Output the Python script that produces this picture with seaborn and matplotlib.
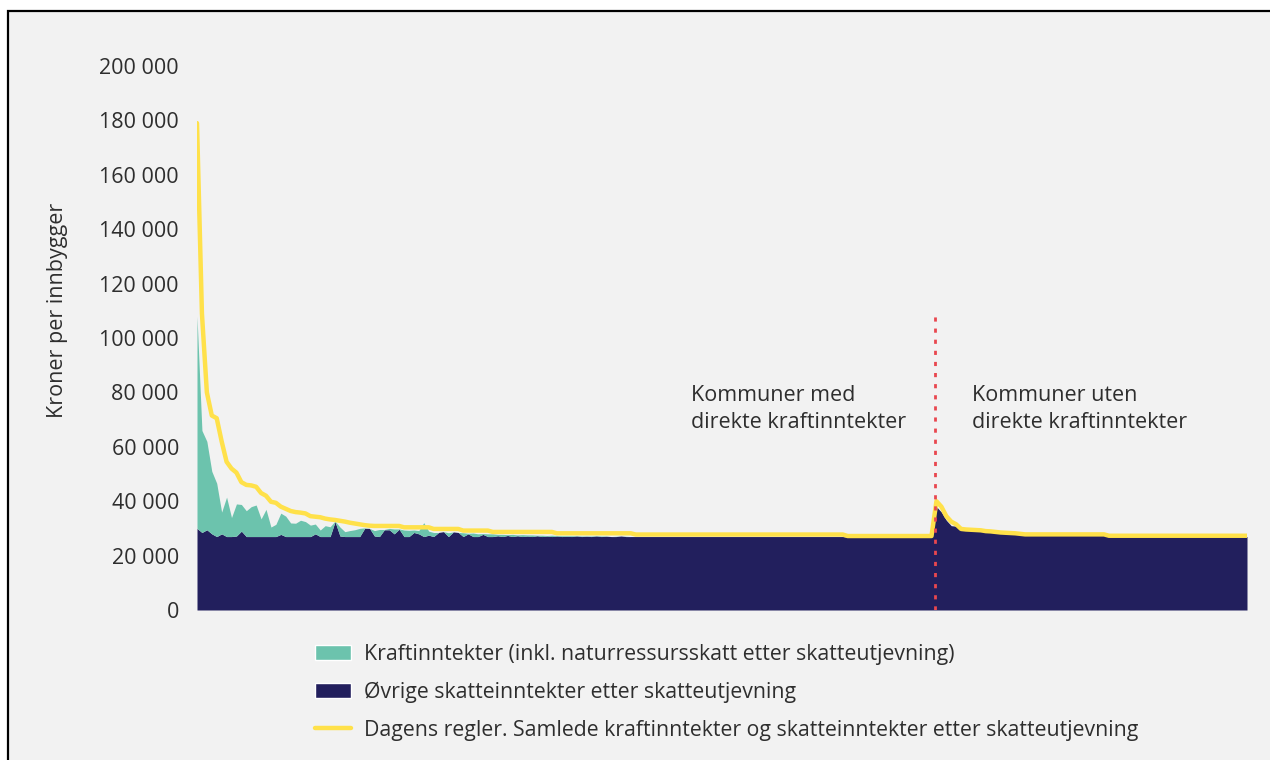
import numpy as np
import pandas as pd
import seaborn as sns
import matplotlib.pyplot as plt
from matplotlib.patches import Patch, Rectangle
from matplotlib.lines import Line2D

sns.set_theme(style="white")
plt.rcParams['font.family'] = ['Open Sans', 'DejaVu Sans']

# kommuner med direkte kraftinntekter (sortert etter samlede inntekter)
kraft_med = [
    78000, 37500, 32500, 23000, 19600, 8000, 14500, 7000, 11800, 9800,
    9500, 11000, 11600, 6500, 10000, 3500, 4500, 7800, 7500, 5000,
    4900, 6000, 5500, 4200, 3600, 2400, 4000, 3600, 200, 3300,
    1800, 2200, 2500, 3000, 200, 0, 2000, 2600, 100, 500,
    1800, 100, 2400, 2300, 900, 1200, 5100, 1500, 1500, 0,
    0, 1400, 0, 0, 1400, 200, 1300, 1000, 300, 1000,
    1000, 500, 800, 300, 800, 300, 700, 400, 600, 200,
    500, 200, 500, 200, 300, 200, 300, 100, 200, 100,
    200, 100, 200, 100, 0, 100, 0, 100, 0, 0,
    0, 0, 0, 0, 0, 0, 0, 0, 0, 0,
    0, 0, 0, 0, 0, 0, 0, 0, 0, 0,
    0, 0, 0, 0, 0, 0, 0, 0, 0, 0,
    0, 0, 0, 0, 0, 0, 0, 0, 0, 0,
    0, 0, 0, 0, 0, 0, 0, 0, 0, 0,
    0, 0, 0, 0, 0, 0, 0, 0, 0, 0,
]
ovrige_med = [
    30000, 28500, 29500, 28000, 27000, 28000, 27000, 27000, 27200, 29000,
    27000, 27000, 27000, 27000, 27000, 27000, 27000, 27800, 27000, 27000,
    27000, 27000, 27000, 27000, 28000, 27000, 27000, 27000, 32500, 27200,
    27000, 27000, 27000, 27000, 30000, 30000, 27200, 27000, 29500, 29500,
    28000, 29700, 27000, 27000, 28500, 28000, 27000, 27500, 27000, 28500,
    28800, 27000, 28700, 28500, 27000, 28000, 27000, 27000, 27800, 27000,
    27000, 27300, 27000, 27400, 27000, 27300, 27000, 27200, 27000, 27300,
    27000, 27200, 27000, 27200, 27000, 27100, 27000, 27200, 27000, 27100,
    27000, 27200, 27000, 27100, 27000, 27000, 27200, 27000, 27000, 27000,
    27000, 27000, 27000, 27000, 27000, 27000, 27000, 27000, 27000, 27000,
    27000, 27000, 27000, 27000, 27000, 27000, 27000, 27000, 27000, 27000,
    27000, 27000, 27000, 27000, 27000, 27000, 27000, 27000, 27000, 27000,
    27000, 27000, 27000, 27000, 27000, 27000, 27000, 27000, 27000, 27000,
    27000, 27000, 26800, 26800, 26800, 26800, 26800, 26800, 26800, 26800,
    26800, 26800, 26800, 26800, 26800, 26800, 26800, 26800, 26800, 26800,
]
samlet_med = [
    179000, 109000, 80000, 71500, 70500, 62000, 54500, 52000, 50500, 47000,
    46000, 45800, 45300, 43000, 42000, 39800, 39400, 38000, 37200, 36400,
    36000, 35800, 35500, 34500, 34300, 34100, 33600, 33300, 33100, 32800,
    32500, 32100, 31800, 31500, 31200, 31000, 30900, 30900, 30900, 30900,
    30900, 30900, 30400, 30400, 30400, 30400, 30400, 30400, 29800, 29800,
    29800, 29800, 29800, 29800, 29200, 29200, 29200, 29200, 29200, 29200,
    28700, 28700, 28700, 28700, 28700, 28700, 28700, 28700, 28700, 28700,
    28700, 28700, 28700, 28200, 28200, 28200, 28200, 28200, 28200, 28200,
    28200, 28200, 28200, 28200, 28200, 28200, 28200, 28200, 28200, 27750,
    27750, 27750, 27750, 27750, 27750, 27750, 27750, 27750, 27750, 27750,
    27750, 27750, 27750, 27750, 27750, 27750, 27750, 27750, 27750, 27750,
    27750, 27750, 27750, 27750, 27750, 27750, 27750, 27750, 27750, 27750,
    27750, 27750, 27750, 27750, 27750, 27750, 27750, 27750, 27750, 27750,
    27750, 27750, 27200, 27200, 27200, 27200, 27200, 27200, 27200, 27200,
    27200, 27200, 27200, 27200, 27200, 27200, 27200, 27200, 27200, 27200,
]

# kommuner uten direkte kraftinntekter
ovrige_uten = [
    38000, 36000, 33000, 31000, 30800, 29400, 29300, 29200, 29100, 29000,
    28700, 28600, 28400, 28200, 28100, 28000, 27900, 27700, 27500, 27500,
    27500, 27500, 27500, 27500, 27500, 27500, 27500, 27500, 27500, 27500,
    27500, 27500, 27500, 27500, 27500, 27000, 27000, 27000, 27000, 27000,
    27000, 27000, 27000, 27000, 27000, 27000, 27000, 27000, 27000, 27000,
    27000, 27000, 27000, 27000, 27000, 27000, 27000, 27000, 27000, 27000,
    27000, 27000, 27000, 27000,
]
samlet_uten = [
    40000, 38000, 34500, 32500, 31500, 29800, 29600, 29500, 29400, 29300,
    29000, 28900, 28700, 28500, 28400, 28300, 28200, 28000, 27800, 27800,
    27800, 27800, 27800, 27800, 27800, 27800, 27800, 27800, 27800, 27800,
    27800, 27800, 27800, 27800, 27800, 27300, 27300, 27300, 27300, 27300,
    27300, 27300, 27300, 27300, 27300, 27300, 27300, 27300, 27300, 27300,
    27300, 27300, 27300, 27300, 27300, 27300, 27300, 27300, 27300, 27300,
    27300, 27300, 27300, 27300,
]

yticks = [0, 20000, 40000, 60000, 80000, 100000, 120000, 140000, 160000, 180000, 200000]
ytick_labels = ['0', '20 000', '40 000', '60 000', '80 000', '100 000',
                '120 000', '140 000', '160 000', '180 000', '200 000']
legend_labels = [
    'Kraftinntekter (inkl. naturressursskatt etter skatteutjevning)',
    'Øvrige skatteinntekter etter skatteutjevning',
    'Dagens regler. Samlede kraftinntekter og skatteinntekter etter skatteutjevning',
]

teal = '#6cc3ad'
navy = '#221f5d'
yellow = '#ffe14a'
red = '#e9474f'
bg = '#f2f2f2'
txt = '#2e2e2e'
fs = 15.5

med = pd.DataFrame({'kraft': kraft_med, 'ovrige': ovrige_med, 'samlet': samlet_med})
uten = pd.DataFrame({'ovrige': ovrige_uten, 'samlet': samlet_uten})
df = pd.concat([med, uten], ignore_index=True).fillna({'kraft': 0})
df['nr'] = df.index
skille = len(med) - 0.3

W, H = 1270, 760
fig = plt.figure(figsize=(W / 100, H / 100), dpi=100, facecolor='white')
fig.add_artist(Rectangle((8 / W, -0.1), 1.2, 1.1 - 11 / H, transform=fig.transFigure,
                         facecolor=bg, edgecolor='black', linewidth=1.6, zorder=-1))

ax = fig.add_axes([197 / W, 1 - 610 / H, 1050 / W, 544 / H])
ax.set_facecolor('none')

ax.stackplot(df['nr'], df['ovrige'], df['kraft'], colors=[navy, teal], linewidth=0)
sns.lineplot(data=df, x='nr', y='samlet', estimator=None, color=yellow, linewidth=3.2, ax=ax)
ax.plot([skille, skille], [0, 110000], color=red, linewidth=2,
        linestyle=(0, (1.5, 2.5)), dash_capstyle='butt', zorder=5)

ax.text(100.2, 82700, 'Kommuner med\ndirekte kraftinntekter', ha='left', va='top',
        fontsize=fs, color=txt, linespacing=1.35)
ax.text(157.2, 82700, 'Kommuner uten\ndirekte kraftinntekter', ha='left', va='top',
        fontsize=fs, color=txt, linespacing=1.35)

ax.set_xlim(0, len(df) - 1)
ax.set_ylim(0, 200000)
ax.set_xticks([])
ax.set_yticks(yticks)
ax.set_yticklabels(ytick_labels)
ax.tick_params(axis='y', length=0, pad=13, labelsize=fs, colors=txt)
ax.set_xlabel('')
ax.set_ylabel('')
sns.despine(ax=ax, left=True, bottom=True)

fig.text(58 / W, 1 - 310 / H, 'Kroner per innbygger', rotation=90, ha='center', va='center',
         fontsize=fs, color=txt)

handles = [Patch(facecolor=teal), Patch(facecolor=navy), Line2D([], [], color=yellow, linewidth=3.2)]
fig.legend(handles, legend_labels, loc='upper left', bbox_to_anchor=(315 / W, 1 - 644 / H),
           frameon=False, fontsize=15.3, handlelength=1.7, handleheight=0.7, handletextpad=0.6,
           labelspacing=0.78, borderpad=0, borderaxespad=0, labelcolor=txt)

fig.savefig('out.png', dpi=100)
